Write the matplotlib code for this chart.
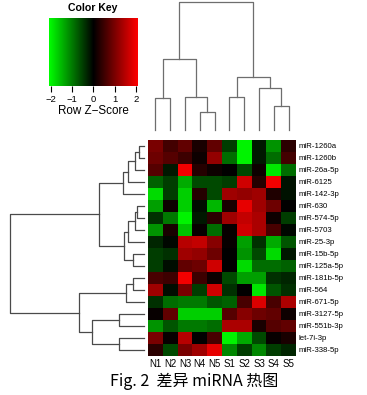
import numpy as np
import matplotlib
matplotlib.use("Agg")
import matplotlib.pyplot as plt
from matplotlib.colors import LinearSegmentedColormap

# heatmap data (row z-scores), rows top->bottom, cols left->right
samples = ["N1", "N2", "N3", "N4", "N5", "S1", "S2", "S3", "S4", "S5"]
mirnas = ["miR-1260a", "miR-1260b", "miR-26a-5p", "miR-6125", "miR-142-3p",
          "miR-630", "miR-574-5p", "miR-5703", "miR-25-3p", "miR-15b-5p",
          "miR-125a-5p", "miR-181b-5p", "miR-564", "miR-671-5p",
          "miR-3127-5p", "miR-551b-3p", "let-7i-3p", "miR-338-5p"]
zscores = [
    [1.0, 0.55, 0.8, 0.2, 0.8, -0.5, -2.0, -0.2, -1.2, 0.35],
    [0.9, 0.7, 0.5, 0.1, 1.2, -0.9, -2.0, -0.2, -0.9, 0.55],
    [0.7, -0.2, 2.0, 0.3, 0.1, 0.0, -0.6, 0.1, -1.9, -0.9],
    [-0.8, -0.5, -1.4, -0.6, -0.6, -0.5, 1.7, 0.3, 2.0, -0.15],
    [-1.8, -0.5, -1.7, 0.3, -0.6, 1.3, 1.2, 1.3, 0.25, -0.15],
    [-1.3, 0.1, -1.7, -0.1, -1.5, 0.2, 1.9, 1.3, 0.9, 0.0],
    [-0.4, -1.0, -2.0, -0.2, 0.35, 1.3, 1.6, 1.4, 0.1, -0.5],
    [-1.2, 0.2, -1.6, 0.05, -0.9, 0.05, 1.7, 1.4, 0.6, -0.05],
    [-0.3, -0.05, 1.5, 1.6, 1.1, 0.05, -1.3, -0.4, -1.4, -0.7],
    [-0.5, -0.4, 1.3, 1.2, 0.9, 0.0, -1.2, -0.6, -1.8, -0.2],
    [-0.5, -0.1, 0.8, 0.9, 1.7, 0.0, -1.8, -0.9, -0.9, -0.8],
    [0.6, 0.5, 2.0, 0.5, 0.1, -0.6, -1.3, -1.3, -0.4, -0.3],
    [1.3, -0.1, 1.0, -0.5, 1.7, -0.4, 0.0, -1.9, -0.7, -0.4],
    [-0.4, -0.9, -1.0, -1.0, -0.7, -0.8, 0.6, 1.8, 0.6, 1.4],
    [0.05, 0.8, -1.7, -1.7, -1.7, 0.7, 1.1, 0.9, 0.8, 0.1],
    [-1.2, -0.7, -1.0, -1.0, -0.9, 1.4, 1.4, 0.2, 0.7, 0.8],
    [1.0, 0.05, 1.5, 0.0, 0.6, -2.0, -1.4, -0.6, 0.05, 0.2],
    [0.35, -0.6, 1.0, 1.3, 1.9, -1.1, -0.5, -1.1, -0.5, -0.3],
]

# dendrogram merges: (child a, child b, height); leaves are 0..n-1
col_links = [(0, 1, 32), (3, 4, 18), (2, 11, 33), (10, 12, 71),
             (5, 6, 33), (8, 9, 24), (7, 15, 42), (14, 16, 53), (13, 17, 128)]
row_links = [(0, 1, 4.7), (18, 2, 9), (19, 3, 15.7), (20, 4, 20.7),
             (5, 6, 7), (22, 7, 9), (23, 8, 15.7), (9, 10, 10.7), (24, 25, 20),
             (21, 26, 45), (11, 12, 11.3), (28, 13, 18), (14, 15, 24.7),
             (16, 17, 24.7), (30, 31, 52.3), (29, 32, 65), (27, 33, 134)]

key_ticks = [-2, -1, 0, 1, 2]

W, H = 367, 395
cmap = LinearSegmentedColormap.from_list("greenred", ["#00ff00", "#000000", "#ff0000"])
vlim = 2.1
plt.rcParams['font.family'] = ['Liberation Sans', 'DejaVu Sans']


def px_axes(fig, x0, y0, x1, y1):
    return fig.add_axes([x0 / W, 1 - y1 / H, (x1 - x0) / W, (y1 - y0) / H])


def draw_dendro(ax, links, n, orient, color="#555555"):
    pos = list(range(n))
    hgt = [0.0] * n
    for a, b, h in links:
        xa, xb, ha, hb = pos[a], pos[b], hgt[a], hgt[b]
        if orient == "top":
            ax.plot([xa, xa, xb, xb], [ha, h, h, hb], color=color, lw=0.9, clip_on=False)
        else:
            ax.plot([ha, h, h, hb], [xa, xa, xb, xb], color=color, lw=0.9, clip_on=False)
        pos.append((xa + xb) / 2)
        hgt.append(h)


fig = plt.figure(figsize=(W / 100, H / 100), dpi=100)

# main heatmap
ax = px_axes(fig, 148, 140, 296, 356)
ax.imshow(np.array(zscores), cmap=cmap, vmin=-vlim, vmax=vlim, aspect="auto",
          interpolation="nearest")
ax.set_xticks(range(len(samples)))
ax.set_xticklabels(samples, fontsize=7)
ax.set_yticks(range(len(mirnas)))
ax.set_yticklabels(mirnas, fontsize=5.6)
ax.yaxis.tick_right()
ax.tick_params(length=0, pad=1.5)
ax.tick_params(axis="x", pad=2)
for s in ax.spines.values():
    s.set_visible(False)

# column dendrogram
axc = px_axes(fig, 148, 2, 296, 130)
draw_dendro(axc, col_links, len(samples), "top", color="#6e6e6e")
axc.set_xlim(-0.5, len(samples) - 0.5)
axc.set_ylim(0, 128)
axc.axis("off")

# row dendrogram
axr = px_axes(fig, 10, 140, 144, 356)
draw_dendro(axr, row_links, len(mirnas), "left", color="#4a4a4a")
axr.set_ylim(len(mirnas) - 0.5, -0.5)
axr.set_xlim(134, 0)
axr.axis("off")

# color key
axk = px_axes(fig, 49, 18, 138, 86)
grad = np.linspace(-vlim, vlim, 256).reshape(1, -1)
axk.imshow(grad, cmap=cmap, vmin=-vlim, vmax=vlim, aspect="auto",
           extent=[-2.08, 2.1, 0, 1])
axk.set_xticks(key_ticks)
axk.set_xticklabels([str(t).replace("-", "\u2212") for t in key_ticks], fontsize=6.8)
axk.set_yticks([])
axk.tick_params(axis="x", length=4.5, width=0.8, pad=2)
for s in axk.spines.values():
    s.set_visible(False)
fig.text(93 / W, 1 - 8 / H, "Color Key", fontsize=7.6, fontweight="bold",
         ha="center", va="center")
fig.text(93 / W, 1 - 111 / H, "Row Z\u2212Score", fontsize=8.4,
         ha="center", va="center")

# caption
fig.text(194 / W, 1 - 381 / H, "Fig. 2  差异 miRNA 热图", fontsize=11.5,
         family=["Noto Sans CJK SC", "DejaVu Sans"], ha="center", va="center")

fig.savefig("out.png", dpi=100)
